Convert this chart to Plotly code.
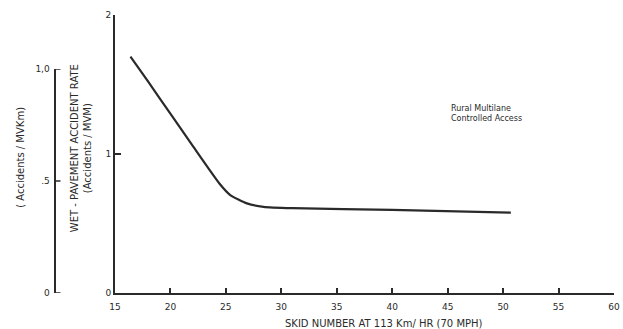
import plotly.graph_objects as go

# Data
skid_number = [16.4, 18.0, 20.0, 22.0, 24.4, 25.4, 26.9, 28.4, 31.0, 40.0, 50.7]
accident_rate_mvm = [1.70, 1.52, 1.29, 1.06, 0.79, 0.705, 0.645, 0.62, 0.61, 0.598, 0.578]

x_ticks = [15, 20, 25, 30, 35, 40, 45, 50, 55, 60]
y_ticks = [0, 1, 2]
y2_ticks = [0, 0.5, 1.0]
y2_ticktext = ["0", ".5", "1,0"]

FONT = "DejaVu Sans"
INK = "#2a2a2a"
W, H = 623, 329
ML, MR, MT, MB = 0, 9, 15, 36
plot_w = W - ML - MR
plot_h = H - MT - MB
x0_px = 110   # position of main y axis
x2_px = 49    # position of secondary y axis

fig = go.Figure()
fig.add_trace(go.Scatter(
    x=skid_number, y=accident_rate_mvm, mode="lines",
    line=dict(color=INK, width=2.2, shape="spline", smoothing=0.5),
    showlegend=False, hoverinfo="skip"))
# empty trace so that the secondary (Accidents / MVKm) axis is drawn
fig.add_trace(go.Scatter(x=[None], y=[None], yaxis="y2", mode="lines",
                         showlegend=False, hoverinfo="skip"))

fig.update_layout(
    width=W, height=H,
    margin=dict(l=ML, r=MR, t=MT, b=MB),
    paper_bgcolor="white", plot_bgcolor="rgba(0,0,0,0)",
    font=dict(family=FONT, size=9, color=INK),
    xaxis=dict(domain=[x0_px / plot_w, 1], range=[15, 60], tickvals=x_ticks,
               showgrid=False, zeroline=False, showline=True, linecolor=INK,
               linewidth=2, ticks="inside", ticklen=5, tickwidth=1.5, tickcolor=INK,
               tickfont=dict(size=9), ticklabelstandoff=4),
    yaxis=dict(range=[0, 2], tickvals=y_ticks, showgrid=False, zeroline=False,
               showline=True, linecolor=INK, linewidth=2, ticks="inside",
               ticklen=6, tickwidth=1.5, tickcolor=INK, tickfont=dict(size=9)),
    yaxis2=dict(anchor="free", position=x2_px / plot_w, domain=[0, 224 / plot_h],
                range=[0, 1.0], tickvals=y2_ticks, ticktext=y2_ticktext,
                showgrid=False, zeroline=False, showline=True, linecolor=INK,
                linewidth=2, ticks="", tickfont=dict(size=9), side="left",
                ticklabelstandoff=2),
)

# tick marks of the secondary axis, pointing right as in the reference
for t in y2_ticks:
    fig.add_shape(type="line", xref="paper", yref="y2",
                  x0=x2_px / plot_w, x1=(x2_px + 6) / plot_w, y0=t, y1=t,
                  line=dict(color=INK, width=1.5))

fig.add_annotation(text="( Accidents / MVKm)", textangle=-90, xref="paper", yref="paper",
                   x=15 / plot_w, y=(293 - 157) / plot_h, showarrow=False,
                   xanchor="center", yanchor="middle", font=dict(size=10))
fig.add_annotation(text="WET - PAVEMENT ACCIDENT RATE<br>(Accidents / MVM)", textangle=-90,
                   xref="paper", yref="paper", x=76 / plot_w, y=(293 - 148) / plot_h,
                   showarrow=False, xanchor="center", yanchor="middle",
                   font=dict(size=10))
fig.add_annotation(text="SKID NUMBER AT 113 Km/ HR (70 MPH)", xref="paper", yref="paper",
                   x=382 / plot_w, y=-(323 - 293) / plot_h, showarrow=False,
                   xanchor="center", yanchor="middle", font=dict(size=10))
fig.add_annotation(text="Rural Multilane<br>Controlled Access", xref="x", yref="y",
                   x=45.1, y=1.29, showarrow=False, xanchor="left", yanchor="middle",
                   align="left", font=dict(size=8))

fig.write_html("out.html")
